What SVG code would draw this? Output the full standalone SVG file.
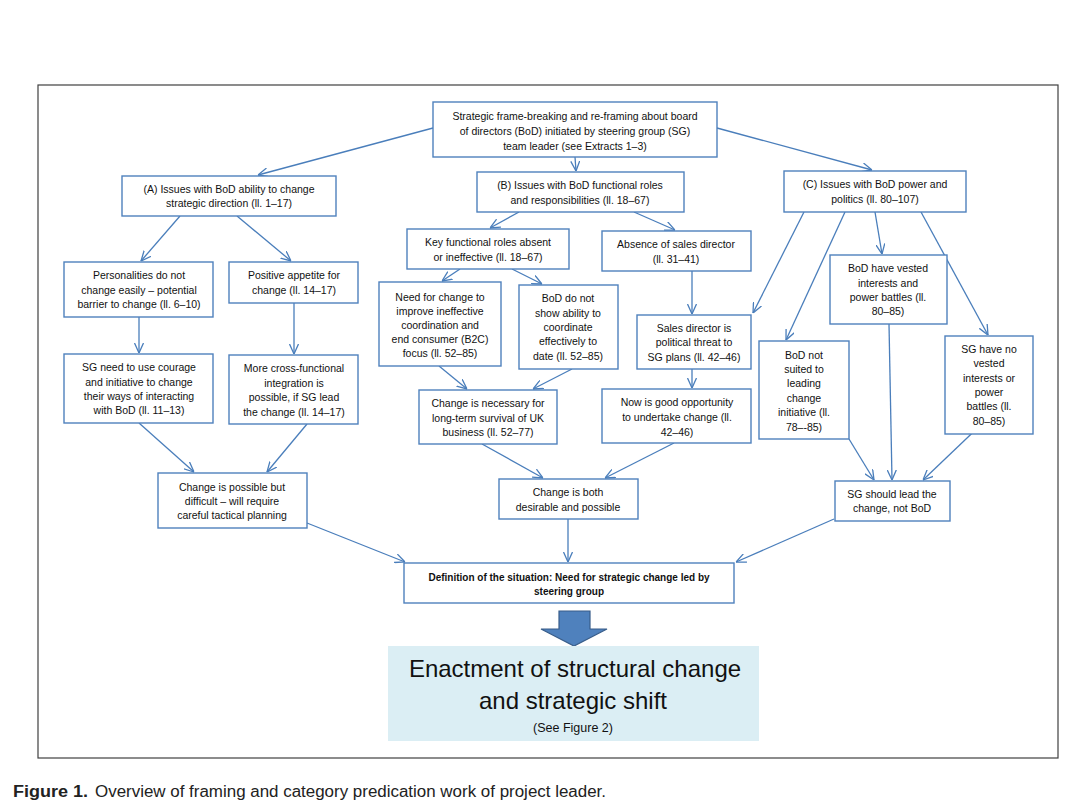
<svg xmlns="http://www.w3.org/2000/svg" width="1087" height="809" viewBox="0 0 1087 809">
<style>
.n rect{fill:#fff;stroke:#4F81BD;stroke-width:1.4}
.n text{font-family:"Liberation Sans",Arial,sans-serif;font-size:10.5px;fill:#111;text-anchor:middle}
.n text.b{font-weight:bold;font-size:10px}
#edges line{stroke:#4A7EBB;stroke-width:1.3;marker-end:url(#ah)}
.cap{font-family:"Liberation Sans",Arial,sans-serif;font-size:16px;fill:#222}
.big{font-family:"Liberation Sans",Arial,sans-serif;fill:#111;text-anchor:middle}
</style>
<defs>
<marker id="ah" viewBox="0 0 10 10" refX="10" refY="5" markerWidth="10" markerHeight="10" markerUnits="userSpaceOnUse" orient="auto">
<path d="M0,0.5 L10,5 L0,9.5" fill="none" stroke="#4A7EBB" stroke-width="1.3"/>
</marker>
</defs>
<rect width="1087" height="809" fill="#fff"/>
<rect x="38" y="85" width="1020" height="673" fill="none" stroke="#404040" stroke-width="1.2"/>

<g id="edges">
<line x1="433" y1="128" x2="258" y2="175"/>
<line x1="575" y1="157" x2="576" y2="171"/>
<line x1="717" y1="128" x2="872" y2="170"/>
<line x1="180" y1="216" x2="141" y2="261"/>
<line x1="237" y1="216" x2="291" y2="261"/>
<line x1="139" y1="317" x2="139" y2="353"/>
<line x1="294" y1="303" x2="294" y2="354"/>
<line x1="139" y1="423" x2="194" y2="472"/>
<line x1="307" y1="424" x2="267" y2="472"/>
<line x1="519" y1="212" x2="490" y2="228"/>
<line x1="634" y1="212" x2="675" y2="230"/>
<line x1="460" y1="269" x2="442" y2="281"/>
<line x1="512" y1="269" x2="542" y2="284"/>
<line x1="439" y1="366" x2="467" y2="389"/>
<line x1="572" y1="369" x2="533" y2="389"/>
<line x1="692" y1="271" x2="692" y2="314"/>
<line x1="692" y1="369" x2="692" y2="388"/>
<line x1="804" y1="212" x2="753" y2="313"/>
<line x1="845" y1="212" x2="786" y2="340"/>
<line x1="875" y1="212" x2="882" y2="254"/>
<line x1="921" y1="212" x2="988" y2="335"/>
<line x1="889" y1="324" x2="892" y2="480"/>
<line x1="849" y1="439" x2="874" y2="480"/>
<line x1="988" y1="418" x2="923" y2="480"/>
<line x1="482" y1="444" x2="543" y2="478"/>
<line x1="674" y1="443" x2="605" y2="478"/>
<line x1="307" y1="523" x2="405" y2="562"/>
<line x1="568" y1="519" x2="568" y2="562"/>
<line x1="834" y1="519" x2="736" y2="562"/>
</g>

<g id="n-top" class="n"><rect x="433" y="102" width="284" height="55"/>
<text x="575" y="120">Strategic frame-breaking and re-framing about board</text>
<text x="575" y="135">of directors (BoD) initiated by steering group (SG)</text>
<text x="575" y="150">team leader (see Extracts 1–3)</text></g>

<g id="n-a" class="n"><rect x="122" y="176" width="214" height="40"/>
<text x="229" y="193">(A) Issues with BoD ability to change</text>
<text x="229" y="207">strategic direction (ll. 1–17)</text></g>

<g id="n-b" class="n"><rect x="477" y="172" width="207" height="40"/>
<text x="580" y="189">(B) Issues with BoD functional roles</text>
<text x="580" y="204">and responsibilities (ll. 18–67)</text></g>

<g id="n-c" class="n"><rect x="784" y="171" width="182" height="41"/>
<text x="875" y="188">(C) Issues with BoD power and</text>
<text x="875" y="203">politics (ll. 80–107)</text></g>

<g id="n-key" class="n"><rect x="407" y="229" width="162" height="40"/>
<text x="488" y="246">Key functional roles absent</text>
<text x="488" y="260.5">or ineffective (ll. 18–67)</text></g>

<g id="n-absence" class="n"><rect x="602" y="231" width="149" height="40"/>
<text x="676" y="248">Absence of sales director</text>
<text x="676" y="263">(ll. 31–41)</text></g>

<g id="n-need" class="n"><rect x="379" y="282" width="122" height="84"/>
<text x="440" y="300.5">Need for change to</text>
<text x="440" y="314.5">improve ineffective</text>
<text x="440" y="328.5">coordination and</text>
<text x="440" y="342.5">end consumer (B2C)</text>
<text x="440" y="356.5">focus (ll. 52–85)</text></g>

<g id="n-bodnot" class="n"><rect x="519" y="285" width="99" height="84"/>
<text x="568" y="302">BoD do not</text>
<text x="568" y="316.5">show ability to</text>
<text x="568" y="331">coordinate</text>
<text x="568" y="345">effectively to</text>
<text x="568" y="359.5">date (ll. 52–85)</text></g>

<g id="n-sales" class="n"><rect x="637" y="315" width="114" height="54"/>
<text x="694" y="332">Sales director is</text>
<text x="694" y="346">political threat to</text>
<text x="694" y="361">SG plans (ll. 42–46)</text></g>

<g id="n-vested" class="n"><rect x="830" y="255" width="117" height="69"/>
<text x="888" y="272">BoD have vested</text>
<text x="888" y="287">interests and</text>
<text x="888" y="301">power battles (ll.</text>
<text x="888" y="315">80–85)</text></g>

<g id="n-notsuited" class="n"><rect x="759" y="341" width="90" height="98"/>
<text x="804" y="359">BoD not</text>
<text x="804" y="373">suited to</text>
<text x="804" y="387">leading</text>
<text x="804" y="402">change</text>
<text x="804" y="416">initiative (ll.</text>
<text x="804" y="431">78–-85)</text></g>

<g id="n-sgno" class="n"><rect x="945" y="336" width="88" height="98"/>
<text x="989" y="353">SG have no</text>
<text x="989" y="367">vested</text>
<text x="989" y="382">interests or</text>
<text x="989" y="396">power</text>
<text x="989" y="410">battles (ll.</text>
<text x="989" y="425">80–85)</text></g>

<g id="n-personalities" class="n"><rect x="64" y="262" width="149" height="55"/>
<text x="139" y="279">Personalities do not</text>
<text x="139" y="294">change easily – potential</text>
<text x="139" y="308">barrier to change (ll. 6–10)</text></g>

<g id="n-positive" class="n"><rect x="229" y="262" width="129" height="41"/>
<text x="294" y="279">Positive appetite for</text>
<text x="294" y="294">change (ll. 14–17)</text></g>

<g id="n-sgneed" class="n"><rect x="64" y="354" width="149" height="69"/>
<text x="139" y="371">SG need to use courage</text>
<text x="139" y="386">and initiative to change</text>
<text x="139" y="400">their ways of interacting</text>
<text x="139" y="414">with BoD (ll. 11–13)</text></g>

<g id="n-crossfunc" class="n"><rect x="229" y="355" width="129" height="69"/>
<text x="294" y="372">More cross-functional</text>
<text x="294" y="387">integration is</text>
<text x="294" y="401">possible, if SG lead</text>
<text x="294" y="416">the change (ll. 14–17)</text></g>

<g id="n-necessary" class="n"><rect x="419" y="390" width="138" height="54"/>
<text x="488" y="407">Change is necessary for</text>
<text x="488" y="422">long-term survival of UK</text>
<text x="488" y="436">business (ll. 52–77)</text></g>

<g id="n-now" class="n"><rect x="602" y="389" width="149" height="54"/>
<text x="677" y="406">Now is good opportunity</text>
<text x="677" y="421">to undertake change (ll.</text>
<text x="677" y="436">42–46)</text></g>

<g id="n-possible" class="n"><rect x="158" y="473" width="149" height="55"/>
<text x="232" y="491">Change is possible but</text>
<text x="232" y="505">difficult – will require</text>
<text x="232" y="519">careful tactical planning</text></g>

<g id="n-both" class="n"><rect x="499" y="479" width="139" height="40"/>
<text x="568" y="496">Change is both</text>
<text x="568" y="511">desirable and possible</text></g>

<g id="n-sglead" class="n"><rect x="835" y="481" width="115" height="40"/>
<text x="892" y="498">SG should lead the</text>
<text x="892" y="512">change, not BoD</text></g>

<g id="n-definition" class="n"><rect x="404" y="563" width="330" height="40"/>
<text class="b" x="569" y="581">Definition of the situation: Need for strategic change led by</text>
<text class="b" x="569" y="595">steering group</text></g>

<g id="bigarrow">
<path d="M559,611 L590,611 L590,629 L607,629 L574,646 L541,629 L559,629 Z" fill="#4F81BD" stroke="#385D8A" stroke-width="1.2"/>
</g>

<g id="n-enactment">
<rect x="388" y="646" width="371" height="95" fill="#DBEEF4"/>
<text class="big" x="575" y="677" font-size="24">Enactment of structural change</text>
<text class="big" x="573" y="709" font-size="24">and strategic shift</text>
<text class="big" x="573" y="732" font-size="12.5">(See Figure 2)</text>
</g>

<text class="cap" x="13" y="797" font-weight="bold" textLength="75" lengthAdjust="spacingAndGlyphs">Figure 1.</text>
<text class="cap" x="95" y="797" textLength="511" lengthAdjust="spacingAndGlyphs">Overview of framing and category predication work of project leader.</text>
</svg>
